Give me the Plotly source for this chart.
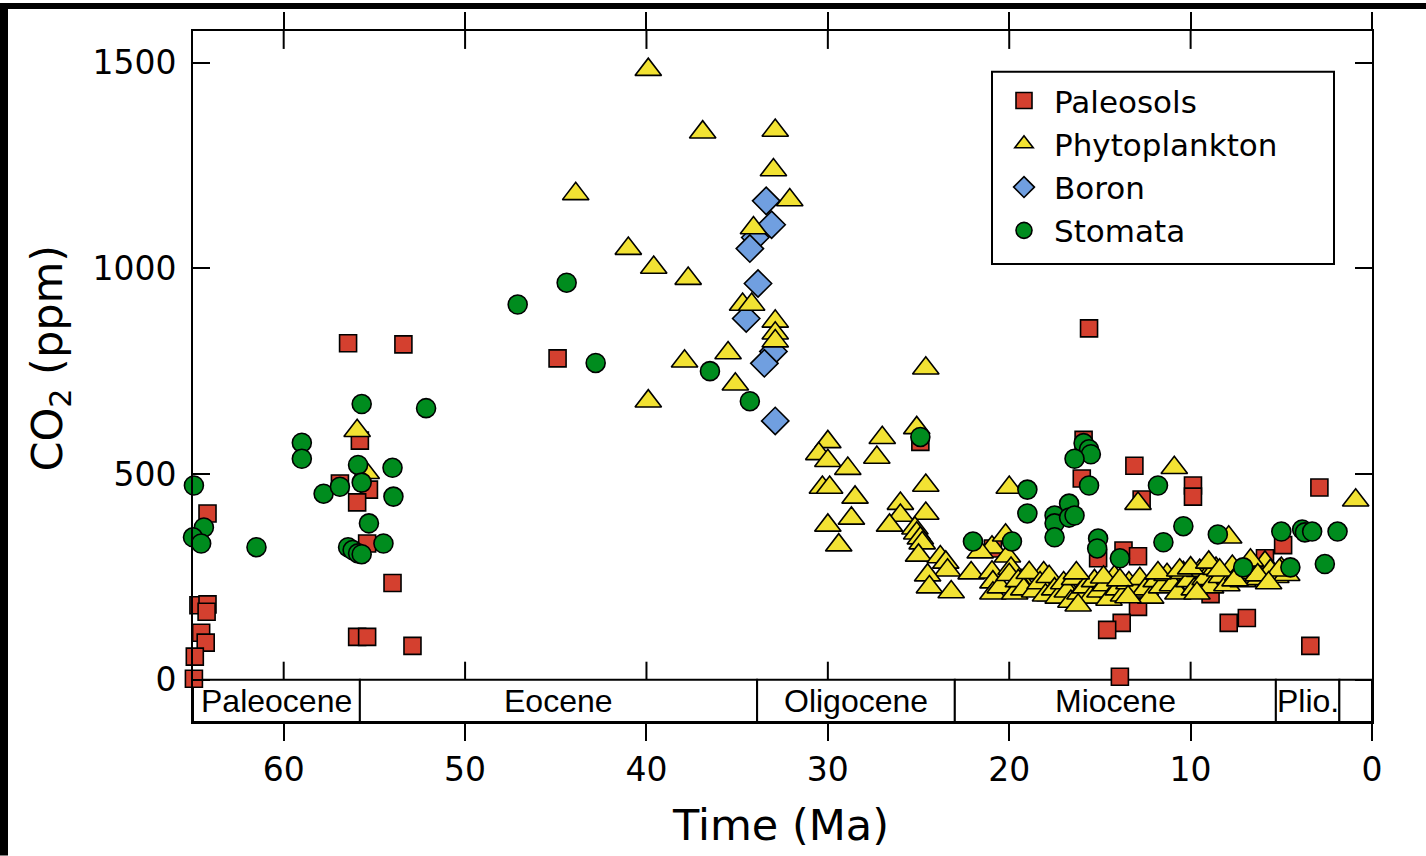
import plotly.graph_objects as go

# ---------------- data ----------------
paleosols_ma = [56.45, 53.4, 55.8, 56.9, 55.3, 55.95, 55.4, 54.0, 55.95, 55.4, 52.9,
                64.2, 64.7, 64.7, 64.2, 64.25, 64.55, 64.3, 64.9, 64.95,
                44.9, 15.6, 15.9, 16.0, 13.1, 12.7, 9.87, 9.87, 2.9, 4.9, 5.9,
                15.1, 13.7, 12.9, 14.3, 12.9, 13.8, 14.6, 8.9, 7.9, 6.9, 3.4, 13.9, 24.9, 20.9]
paleosols_ppm = [818, 815, 581, 477, 462, 431, 331, 235, 104, 104, 82,
                 404, 346, 181, 183, 165, 114, 90, 56, 2,
                 781, 854, 583, 489, 520, 438, 472, 445, 467, 327, 295,
                 295, 314, 300, 208, 177, 138, 121, 208, 138, 150, 82, 7, 578, 319]

phyto_ma = [55.95, 55.45,
            39.9, 36.9, 32.9, 33.0, 32.1, 43.9, 34.1, 41.0, 39.6, 37.7, 34.7, 34.2,
            32.9, 32.9, 32.9, 35.5, 37.9, 35.1, 39.9,
            24.6, 25.1, 30.0, 30.5, 30.0, 27.0, 27.3, 28.9, 30.3, 29.9, 28.5, 28.7, 30.0, 29.4,
            24.6, 26.0, 24.6, 26.0, 26.6, 25.2, 25.1, 24.9, 24.8, 25.0, 23.8, 23.5, 23.4,
            24.5, 24.4, 23.2, 22.1, 20.95, 21.6, 20.2, 20.0, 20.95, 20.9, 20.9, 20.1, 19.9,
            19.3, 18.1, 17.75,
            20.5, 20.0, 19.7, 19.5, 19.2, 18.9, 18.6, 18.3, 18.0, 17.8, 17.5, 17.3, 17.0,
            16.8, 16.6, 16.4, 16.1, 15.8, 15.5, 15.3, 15.0, 14.7, 14.5, 14.2, 14.0, 13.7,
            13.4, 13.1, 12.8, 12.5, 12.2, 11.9, 11.6, 11.3, 11.0, 10.7, 10.4, 10.1, 9.8,
            9.5, 9.2, 8.9, 8.6, 8.3, 8.0, 7.7, 7.4, 7.1, 6.8, 6.5, 6.2, 5.9, 5.6, 5.3,
            5.0, 4.7,
            10.9, 12.9, 7.9, 0.9, 16.3, 16.2, 14.8, 13.9, 13.45, 11.8, 10.6, 10.0, 9.0,
            9.65, 8.4, 7.55, 6.7, 6.3, 5.1, 5.7]
phyto_ppm = [605, 503,
             1483, 1331, 1335, 1239, 1166, 1181, 1098, 1048, 1002, 975, 912, 912,
             871, 842, 823, 794, 774, 718, 677,
             757, 612, 578, 549, 532, 588, 540, 513, 467, 467, 443, 392, 375, 327,
             472, 428, 404, 399, 375, 368, 356, 344, 332, 302, 298, 285, 266,
             254, 225, 213, 259, 322, 310, 351, 467, 261, 237, 210, 300, 270,
             240, 259, 206,
             225, 255, 210, 240, 220, 260, 215, 235, 205, 250, 220, 200, 235,
             215, 190, 245, 210, 225, 200, 240, 215, 230, 195, 250, 220, 205,
             235, 215, 245, 220, 200, 240, 225, 255, 230, 210, 260, 240, 220,
             265, 245, 225, 270, 250, 230, 275, 255, 240, 280, 260, 245, 285, 265, 250,
             270, 255,
             515, 428, 346, 436, 259, 181, 249, 242, 201, 259, 266, 271, 285,
             210, 266, 242, 290, 254, 266, 235]

boron_ma = [33.4, 33.1, 34.0, 34.3, 33.85, 34.5, 33.0, 33.5, 32.9]
boron_ppm = [1164, 1106, 1075, 1048, 963, 878, 798, 769, 629]

stomata_ma = [64.95, 64.4, 65.0, 64.55, 61.5, 59.0, 59.0, 55.7, 52.15, 55.9, 54.0, 57.8,
              56.9, 55.7, 53.95, 55.3, 54.5, 56.45, 56.2, 55.9, 55.7,
              47.1, 44.4, 42.8, 36.5, 34.3,
              24.9, 22.0, 19.85, 19.0, 19.0, 17.5, 17.5, 17.5, 16.7, 16.7, 15.9, 15.6, 15.5,
              16.4, 15.6, 16.4, 15.1, 15.15, 13.9, 11.8, 10.4, 11.5, 8.5, 7.1, 5.0, 3.85,
              3.7, 3.3, 1.9, 4.5, 2.6]
stomata_ppm = [472, 370, 346, 331, 322, 576, 537, 670, 660, 522, 515, 452,
               469, 479, 445, 380, 331, 322, 315, 307, 305,
               912, 965, 770, 750, 677,
               590, 336, 336, 462, 404, 399, 380, 346, 428, 394, 575, 560, 548,
               537, 472, 399, 343, 319, 295, 472, 373, 334, 353, 273, 360, 365,
               358, 360, 360, 273, 281]

epoch_names = ["Paleocene", "Eocene", "Oligocene", "Miocene", "Plio.", ""]
epoch_old = [65.0, 55.8, 33.9, 23.0, 5.3, 1.8]
epoch_young = [55.8, 33.9, 23.0, 5.3, 1.8, 0.0]

x_ticks = [60, 50, 40, 30, 20, 10, 0]
y_ticks = [0, 500, 1000, 1500]

# ---------------- layout constants ----------------
X_RANGE = [65, 0]
Y_RANGE = [-103, 1577]
TICK_IN = 43.6          # inner tick length in data units (~18 px)

RED = "#D4402F"
YELLOW = "#F2E233"
BLUE = "#709FE0"
GREEN = "#008C1E"
LINE = dict(color="black", width=1.6)

fig = go.Figure()
fig.add_trace(go.Scatter(x=boron_ma, y=boron_ppm, mode="markers", name="Boron",
                         legendrank=3, cliponaxis=False,
                         marker=dict(symbol="diamond", size=21, color=BLUE, line=LINE)))
fig.add_trace(go.Scatter(x=paleosols_ma, y=paleosols_ppm, mode="markers", name="Paleosols",
                         legendrank=1, cliponaxis=False,
                         marker=dict(symbol="square", size=17, color=RED, line=LINE)))
fig.add_trace(go.Scatter(x=phyto_ma, y=phyto_ppm, mode="markers", name="Phytoplankton",
                         legendrank=2, cliponaxis=False,
                         marker=dict(symbol="triangle-up", size=23, color=YELLOW, line=LINE)))
fig.add_trace(go.Scatter(x=stomata_ma, y=stomata_ppm, mode="markers", name="Stomata",
                         legendrank=4, cliponaxis=False,
                         marker=dict(symbol="circle", size=19, color=GREEN, line=LINE)))

shapes = []
annotations = []
# epoch band
for name, a, b in zip(epoch_names, epoch_old, epoch_young):
    shapes.append(dict(type="rect", xref="x", yref="y", x0=a, x1=b, y0=Y_RANGE[0], y1=0,
                       fillcolor="white", line=dict(color="black", width=2), layer="below"))
    if name:
        annotations.append(dict(x=(a + b) / 2, y=Y_RANGE[0] / 2, xref="x", yref="y",
                                xanchor="center", yanchor="middle",
                                text=name, showarrow=False,
                                font=dict(family="Liberation Sans", size=32, color="black")))
# inner tick segments (top and above the epoch band)
for t in x_ticks[:-1]:
    shapes.append(dict(type="line", xref="x", yref="y", x0=t, x1=t, y0=0, y1=TICK_IN,
                       line=dict(color="black", width=2), layer="below"))
    shapes.append(dict(type="line", xref="x", yref="y", x0=t, x1=t,
                       y0=Y_RANGE[1] - TICK_IN, y1=Y_RANGE[1],
                       line=dict(color="black", width=2), layer="below"))

W, H = 1426, 856
L, R, T, B = 193, 54, 28, 134
pw, ph = W - L - R, H - T - B


def px_x(p):
    return (p - L) / pw


def px_y(p):
    return (T + ph - p) / ph


# black frame strips at the image edge (top and left)
shapes.append(dict(type="rect", xref="paper", yref="paper",
                   x0=px_x(0), x1=px_x(W), y0=px_y(6), y1=px_y(0),
                   fillcolor="black", line=dict(width=0)))
shapes.append(dict(type="rect", xref="paper", yref="paper",
                   x0=px_x(0), x1=px_x(8), y0=px_y(H), y1=px_y(0),
                   fillcolor="black", line=dict(width=0)))
# legend frame
shapes.append(dict(type="rect", xref="paper", yref="paper",
                   x0=px_x(992), x1=px_x(1334), y0=px_y(262), y1=px_y(69),
                   fillcolor="white", line=dict(color="black", width=2), layer="below"))

annotations.append(dict(text="CO<sub>2</sub> (ppm)", xref="paper", yref="paper",
                        x=px_x(50), y=px_y(357), textangle=-90,
                        xanchor="center", yanchor="middle", showarrow=False,
                        font=dict(family="DejaVu Sans", size=43, color="black")))
annotations.append(dict(text="Time (Ma)", xref="paper", yref="paper",
                        x=px_x(780), y=px_y(825),
                        xanchor="center", yanchor="middle", showarrow=False,
                        font=dict(family="DejaVu Sans", size=43, color="black")))

fig.update_layout(
    width=W, height=H,
    margin=dict(l=L, r=R, t=T, b=B),
    paper_bgcolor="white", plot_bgcolor="white",
    shapes=shapes, annotations=annotations,
    showlegend=True,
    legend=dict(x=px_x(994), y=px_y(71), xanchor="left", yanchor="top",
                borderwidth=0, bgcolor="rgba(0,0,0,0)",
                font=dict(family="DejaVu Sans", size=31, color="black"),
                itemwidth=50),
)
fig.update_xaxes(range=X_RANGE, tickvals=x_ticks, ticks="outside", ticklen=17, tickwidth=2,
                 tickcolor="black", showline=True, linewidth=2, linecolor="black",
                 mirror="allticks", showgrid=False, zeroline=False,
                 tickfont=dict(family="DejaVu Sans", size=33, color="black"))
fig.update_yaxes(range=Y_RANGE, tickvals=y_ticks, ticks="inside", ticklen=17, tickwidth=2,
                 tickcolor="black", showline=True, linewidth=2, linecolor="black",
                 mirror="ticks", showgrid=False, zeroline=False, ticklabelstandoff=8,
                 tickfont=dict(family="DejaVu Sans", size=33, color="black"))

fig.write_html("out.html")
